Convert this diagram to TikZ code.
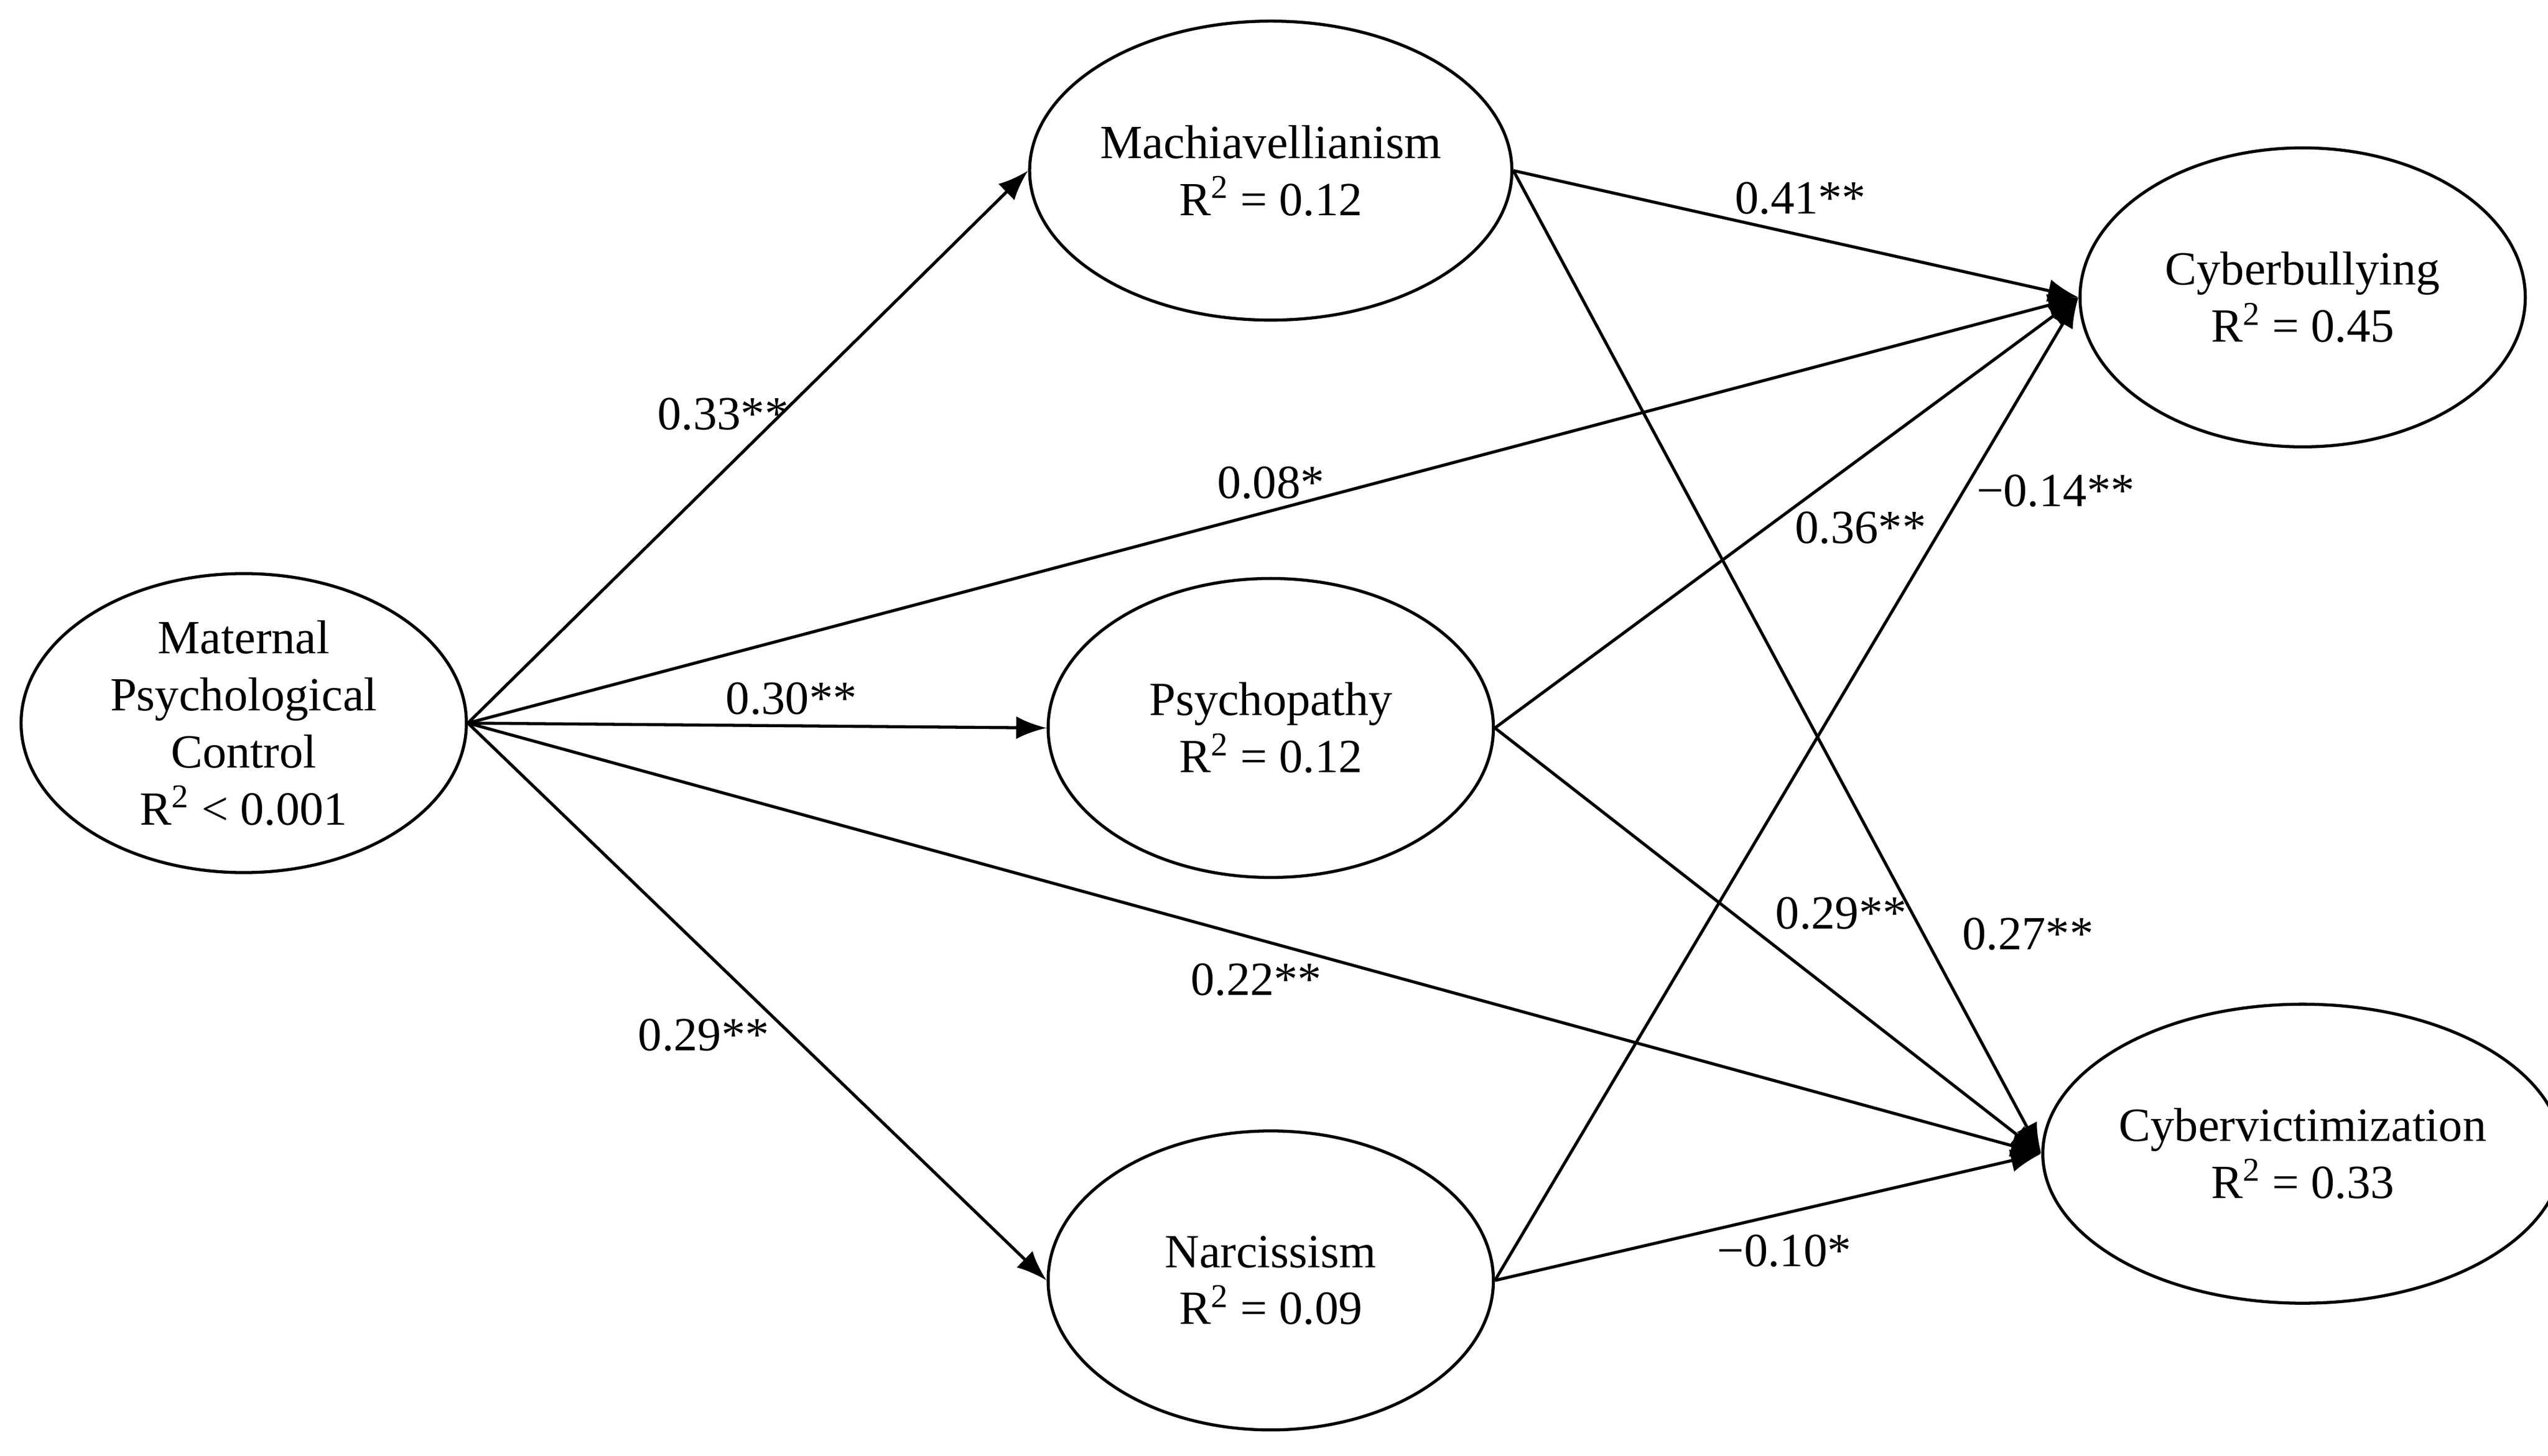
\documentclass[tikz,border=0pt]{standalone}
\usepackage{fontspec}
\setmainfont{Liberation Serif}
\usetikzlibrary{arrows.meta,shapes.geometric}
\begin{document}
\begin{tikzpicture}[x=0.03cm,y=-0.03cm,
  lv/.style={draw,ellipse,line width=1.6pt,minimum width=8.22cm,minimum height=5.52cm,align=center,inner sep=0pt,font=\fontsize{25}{30}\selectfont},
  pth/.style={line width=1.6pt,-{Latex[length=16pt,width=12pt]}},
  lb/.style={font=\fontsize{25}{30}\selectfont}]
\useasboundingbox (0,0) rectangle (1568,896);
\node[lv] (m) at (150,445) {Maternal\\Psychological\\Control\\R\textsuperscript{2} < 0.001};
\node[lv] (mach) at (782,105) {Machiavellianism\\R\textsuperscript{2} = 0.12};
\node[lv] (psy) at (782,448) {Psychopathy\\R\textsuperscript{2} = 0.12};
\node[lv] (nar) at (782,788) {Narcissism\\R\textsuperscript{2} = 0.09};
\node[lv] (cb) at (1417,183) {Cyberbullying\\R\textsuperscript{2} = 0.45};
\node[lv] (cv) at (1417,710) {Cybervictimization\\R\textsuperscript{2} = 0.33};
\draw[pth] (m.east) -- (mach.west);
\draw[pth] (m.east) -- (psy.west);
\draw[pth] (m.east) -- (nar.west);
\draw[pth] (m.east) -- (cb.west);
\draw[pth] (m.east) -- (cv.west);
\draw[pth] (mach.east) -- (cb.west);
\draw[pth] (mach.east) -- (cv.west);
\draw[pth] (psy.east) -- (cb.west);
\draw[pth] (psy.east) -- (cv.west);
\draw[pth] (nar.east) -- (cb.west);
\draw[pth] (nar.east) -- (cv.west);
\node[lb] (l1) at (445,255) {0.33**};
\node[lb] (l2) at (782,297) {0.08*};
\node[lb] (l3) at (487,430) {0.30**};
\node[lb] (l4) at (773,603) {0.22**};
\node[lb] (l5) at (433,637) {0.29**};
\node[lb] (l6) at (1108,122) {0.41**};
\node[lb] (l7) at (1145,325) {0.36**};
\node[lb] (l8) at (1265,302) {−0.14**};
\node[lb] (l9) at (1133,562) {0.29**};
\node[lb] (l10) at (1248,575) {0.27**};
\node[lb] (l11) at (1098,770) {−0.10*};
\end{tikzpicture}
\end{document}
